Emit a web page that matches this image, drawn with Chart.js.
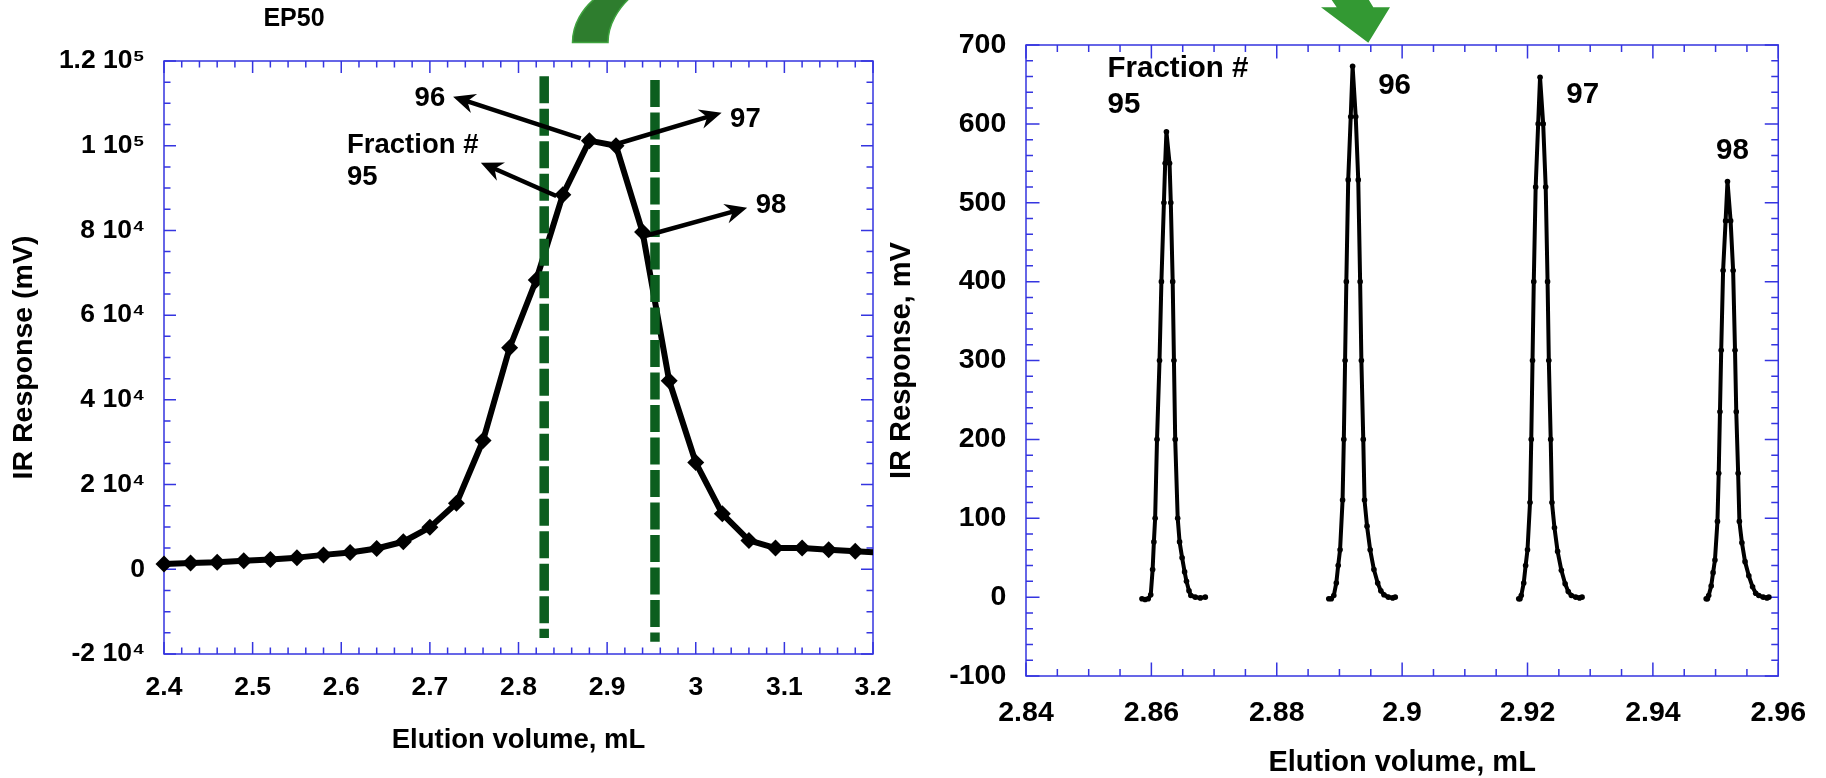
<!DOCTYPE html>
<html>
<head>
<meta charset="utf-8">
<title>EP50 fractions</title>
<script src="https://cdn.jsdelivr.net/npm/chart.js@4.4.1/dist/chart.umd.min.js"></script>
<style>
  html, body { margin: 0; padding: 0; background: #fff; }
  body { position: relative; width: 1826px; height: 778px; overflow: hidden; }
  canvas { position: absolute; top: 0; }
  #ep50 { left: 0; }
  #fractions { left: 870px; }
</style>
</head>
<body>
<canvas id="ep50" width="913" height="778"></canvas>
<canvas id="fractions" width="956" height="778"></canvas>
<script>
/* LEFT PANEL: EP50 elution, sampled every 0.03 mL */
const ep50Volume = [2.40, 2.43, 2.46, 2.49, 2.52, 2.55, 2.58, 2.61, 2.64, 2.67, 2.70, 2.73, 2.76, 2.79,
                    2.82, 2.85, 2.88, 2.91, 2.94, 2.97, 3.00, 3.03, 3.06, 3.09, 3.12, 3.15, 3.18, 3.21];
const ep50Response = [1260, 1500, 1650, 2000, 2300, 2750, 3400, 3950, 4900, 6500, 9900, 15600, 30400, 52300,
                      68300, 88400, 101200, 100000, 79600, 44500, 25200, 13100, 6800, 5000, 5000, 4600, 4250, 3900];

// fraction cut marks (green dashed)
const cutVolume = [2.829, 2.954];
const cutTop = [116400, 115500];
const cutBottom = [-16200, -17100];

const leftXTicks = [2.4, 2.5, 2.6, 2.7, 2.8, 2.9, 3.0, 3.1, 3.2];
const leftXLabels = ['2.4', '2.5', '2.6', '2.7', '2.8', '2.9', '3', '3.1', '3.2'];
const leftYTicks = [-20000, 0, 20000, 40000, 60000, 80000, 100000, 120000];
const leftYLabels = ['-2 10\u2074', '0', '2 10\u2074', '4 10\u2074', '6 10\u2074', '8 10\u2074', '1 10\u2075', '1.2 10\u2075'];

/* RIGHT PANEL: fractions 95-98 re-injected */
const frac95Volume = [2.8585, 2.8590, 2.8595, 2.8599, 2.8602, 2.8604, 2.8606, 2.8609, 2.8613, 2.8616, 2.8620, 2.8622, 2.8624,
                      2.8629, 2.8631, 2.8634, 2.8636, 2.8638, 2.8642, 2.8645, 2.8649, 2.8653, 2.8656, 2.8660, 2.8663, 2.8670, 2.8678, 2.8686];
const frac95Response = [-2, -3, -2, 3, 35, 70, 100, 200, 300, 400, 500, 550, 590,
                        550, 500, 400, 300, 200, 100, 70, 50, 32, 20, 8, 2, 0, -1, 0];

const frac96Volume = [2.8883, 2.8887, 2.8891, 2.8895, 2.8898, 2.8901, 2.8905, 2.8907, 2.8909, 2.8911, 2.8914, 2.8918, 2.8921,
                      2.8926, 2.8930, 2.8933, 2.8935, 2.8938, 2.8940, 2.8944, 2.8949, 2.8955, 2.8961, 2.8966, 2.8971, 2.8978, 2.8985, 2.8989];
const frac96Response = [-2, -2, 2, 18, 40, 60, 123, 200, 300, 400, 529, 609, 673,
                        609, 529, 400, 300, 200, 123, 90, 60, 35, 18, 8, 3, 0, -1, 0];

const frac97Volume = [2.9186, 2.9188, 2.9190, 2.9194, 2.9197, 2.9200, 2.9204, 2.9206, 2.9208, 2.9210, 2.9213, 2.9217, 2.9220,
                      2.9225, 2.9229, 2.9232, 2.9234, 2.9237, 2.9239, 2.9243, 2.9248, 2.9254, 2.9260, 2.9265, 2.9270, 2.9277, 2.9283, 2.9287];
const frac97Response = [-2, -2, 2, 18, 40, 60, 120, 200, 300, 400, 520, 600, 659,
                        600, 520, 400, 300, 200, 120, 88, 58, 34, 17, 7, 2, 0, -1, 0];

const frac98Volume = [2.9485, 2.9487, 2.9489, 2.9493, 2.9496, 2.9499, 2.9503, 2.9505, 2.9507, 2.9509, 2.9512, 2.9516, 2.9519,
                      2.9524, 2.9528, 2.9531, 2.9533, 2.9536, 2.9538, 2.9542, 2.9547, 2.9553, 2.9559, 2.9564, 2.9569, 2.9576, 2.9582, 2.9585];
const frac98Response = [-2, -2, 2, 14, 31, 47, 96, 157, 235, 313, 414, 477, 527,
                        477, 414, 313, 235, 157, 96, 69, 45, 27, 13, 5, 2, 0, -1, 0];

const rightXTicks = [2.84, 2.86, 2.88, 2.90, 2.92, 2.94, 2.96];
const rightXLabels = ['2.84', '2.86', '2.88', '2.9', '2.92', '2.94', '2.96'];
const rightYTicks = [-100, 0, 100, 200, 300, 400, 500, 600, 700];
const rightYLabels = ['-100', '0', '100', '200', '300', '400', '500', '600', '700'];

const FONT = '"Liberation Sans", Arial, Helvetica, sans-serif';
const AXIS_BLUE = '#3535e0';

Chart.defaults.font.family = FONT;
Chart.defaults.font.weight = 'bold';
Chart.defaults.color = '#000';

const pts = (xs, ys) => xs.map((v, i) => ({ x: v, y: ys[i] }));

/* blue box frame with inward major/minor ticks on all four sides */
const frameTicks = {
    id: 'frameTicks',
    beforeDatasetsDraw(chart, args, o) {
        const { ctx, chartArea: a, scales: { x, y } } = chart;
        ctx.save();
        ctx.strokeStyle = AXIS_BLUE;
        ctx.lineWidth = 1.5;
        ctx.strokeRect(a.left, a.top, a.right - a.left, a.bottom - a.top);
        ctx.beginPath();
        const nx = Math.round((x.max - x.min) / o.xMinor);
        for (let i = 0; i <= nx; i++) {
            const px = x.getPixelForValue(x.min + i * o.xMinor);
            const len = i % o.xSub ? o.minor : o.major;
            ctx.moveTo(px, a.bottom); ctx.lineTo(px, a.bottom - len);
            ctx.moveTo(px, a.top); ctx.lineTo(px, a.top + len);
        }
        const ny = Math.round((y.max - y.min) / o.yMinor);
        for (let i = 0; i <= ny; i++) {
            const py = y.getPixelForValue(y.min + i * o.yMinor);
            const len = i % o.ySub ? o.minor : o.major;
            ctx.moveTo(a.left, py); ctx.lineTo(a.left + len, py);
            ctx.moveTo(a.right, py); ctx.lineTo(a.right - len, py);
        }
        ctx.stroke();
        ctx.restore();
    }
};

/* arrows + fraction labels, placed in data units */
const callouts = {
    id: 'callouts',
    afterDatasetsDraw(chart, args, o) {
        const { ctx, scales: { x, y } } = chart;
        ctx.save();
        ctx.fillStyle = '#000';
        ctx.strokeStyle = '#000';
        ctx.lineWidth = 4.5;
        (o.arrows || []).forEach(([x0, y0, x1, y1]) => {
            const ax = x.getPixelForValue(x0), ay = y.getPixelForValue(y0);
            const bx = x.getPixelForValue(x1), by = y.getPixelForValue(y1);
            const ang = Math.atan2(by - ay, bx - ax);
            const c = Math.cos(ang), s = Math.sin(ang);
            ctx.beginPath();
            ctx.moveTo(ax, ay);
            ctx.lineTo(bx - c * 12, by - s * 12);
            ctx.stroke();
            const L = 22, W = 10, N = 15;
            ctx.beginPath();
            ctx.moveTo(bx, by);
            ctx.lineTo(bx - c * L - s * W, by - s * L + c * W);
            ctx.lineTo(bx - c * N, by - s * N);
            ctx.lineTo(bx - c * L + s * W, by - s * L - c * W);
            ctx.closePath();
            ctx.fill();
        });
        ctx.font = `bold ${o.fontSize}px ${FONT}`;
        ctx.textBaseline = 'middle';
        (o.labels || []).forEach(l => {
            ctx.textAlign = l.align || 'center';
            ctx.fillText(l.text, x.getPixelForValue(l.x), y.getPixelForValue(l.y));
        });
        ctx.restore();
    }
};

/* green connector arrow pieces and panel caption, canvas pixels */
const decor = {
    id: 'decor',
    afterDraw(chart, args, o) {
        const { ctx } = chart;
        ctx.save();
        (o.shapes || []).forEach(sh => {
            ctx.beginPath();
            sh.draw(ctx);
            ctx.closePath();
            ctx.fillStyle = sh.fill;
            ctx.fill();
            if (sh.edge) { ctx.strokeStyle = sh.edge; ctx.lineWidth = 1.5; ctx.stroke(); }
        });
        (o.texts || []).forEach(t => {
            ctx.font = `bold ${t.size}px ${FONT}`;
            ctx.fillStyle = '#000';
            ctx.textAlign = 'center';
            ctx.textBaseline = 'middle';
            ctx.fillText(t.text, t.x, t.y);
        });
        ctx.restore();
    }
};

Chart.register(frameTicks, callouts, decor);

/* LEFT CHART */
new Chart(document.getElementById('ep50'), {
    type: 'scatter',
    data: {
        datasets: [
            ...cutVolume.map((v, i) => ({
                data: [{ x: v, y: cutTop[i] }, { x: v, y: cutBottom[i] }],
                showLine: true,
                borderColor: '#0c5e1f',
                borderWidth: 9.5,
                borderDash: [27, 5.5],
                borderCapStyle: 'butt',
                pointRadius: 0,
                order: 0
            })),
            {
                data: pts(ep50Volume, ep50Response),
                showLine: true,
                borderColor: '#000',
                borderWidth: 6,
                borderJoinStyle: 'round',
                pointStyle: 'rectRot',
                pointRadius: 8.5,
                pointBackgroundColor: '#000',
                pointBorderColor: '#000',
                pointBorderWidth: 0,
                clip: { left: false, top: false, right: 0, bottom: false },
                order: 1
            }
        ]
    },
    options: {
        responsive: false,
        animation: false,
        events: [],
        layout: { padding: { top: 61, right: 40, bottom: 0, left: 0 } },
        plugins: {
            legend: { display: false },
            tooltip: { enabled: false },
            frameTicks: { xMinor: 0.02, xSub: 5, yMinor: 5000, ySub: 4, major: 12, minor: 6.5 },
            callouts: {
                fontSize: 27.5,
                arrows: [
                    [2.8702, 101750, 2.7262, 111570],
                    [2.9107, 100400, 3.0292, 107800],
                    [2.8427, 88130, 2.7575, 96000],
                    [2.9375, 78380, 3.0580, 85370]
                ],
                labels: [
                    { text: '96', x: 2.700, y: 111230 },
                    { text: '97', x: 3.056, y: 106300 },
                    { text: 'Fraction #', x: 2.6065, y: 100160, align: 'left' },
                    { text: '95', x: 2.6065, y: 92600, align: 'left' },
                    { text: '98', x: 3.085, y: 85900 }
                ]
            },
            decor: {
                shapes: [{
                    fill: '#2e7d2e',
                    edge: '#3fa33f',
                    draw: c => {
                        c.moveTo(572.5, 42.5);
                        c.bezierCurveTo(572.5, 25, 582, 8, 598, -4);
                        c.lineTo(632, -4);
                        c.bezierCurveTo(618, 8, 608, 25, 608, 42.5);
                    }
                }],
                texts: [{ text: 'EP50', x: 294, y: 19, size: 25 }]
            }
        },
        scales: {
            x: {
                type: 'linear',
                min: 2.4,
                max: 3.2,
                grid: { display: false, drawTicks: false },
                border: { display: false },
                afterBuildTicks: s => { s.ticks = leftXTicks.map(v => ({ value: v })); },
                afterFit: s => { s.height = 124; },
                ticks: {
                    callback: (v, i) => leftXLabels[i],
                    padding: 18,
                    autoSkip: false,
                    maxRotation: 0,
                    font: { size: 26.5, weight: 'bold' }
                },
                title: {
                    display: true,
                    text: 'Elution volume, mL',
                    font: { size: 27.5, weight: 'bold' },
                    padding: { top: 0, bottom: 21 }
                }
            },
            y: {
                type: 'linear',
                min: -20000,
                max: 120000,
                grid: { display: false, drawTicks: false },
                border: { display: false },
                afterBuildTicks: s => { s.ticks = leftYTicks.map(v => ({ value: v })); },
                afterFit: s => { s.width = 164; },
                ticks: {
                    callback: (v, i) => leftYLabels[i],
                    padding: 19,
                    autoSkip: false,
                    font: { size: 26.5, weight: 'bold' }
                },
                title: {
                    display: true,
                    text: 'IR Response (mV)',
                    font: { size: 28.5, weight: 'bold' },
                    padding: { top: 7, bottom: 0 }
                }
            }
        }
    }
});

/* RIGHT CHART */
const fractionSets = [
    [frac95Volume, frac95Response],
    [frac96Volume, frac96Response],
    [frac97Volume, frac97Response],
    [frac98Volume, frac98Response]
];

new Chart(document.getElementById('fractions'), {
    type: 'scatter',
    data: {
        datasets: fractionSets.map(([xs, ys]) => ({
            data: pts(xs, ys),
            showLine: true,
            borderColor: '#000',
            borderWidth: 4,
            borderJoinStyle: 'round',
            pointStyle: 'circle',
            pointRadius: 2.8,
            pointBackgroundColor: '#000',
            pointBorderWidth: 0
        }))
    },
    options: {
        responsive: false,
        animation: false,
        events: [],
        layout: { padding: { top: 45, right: 46, bottom: 0, left: 0 } },
        plugins: {
            legend: { display: false },
            tooltip: { enabled: false },
            frameTicks: { xMinor: 0.005, xSub: 4, yMinor: 20, ySub: 5, major: 13.5, minor: 7 },
            callouts: {
                fontSize: 29.5,
                labels: [
                    { text: 'Fraction #', x: 2.8530, y: 669.6, align: 'left' },
                    { text: '95', x: 2.8530, y: 624.3, align: 'left' },
                    { text: '96', x: 2.8988, y: 647.6 },
                    { text: '97', x: 2.9288, y: 637.3 },
                    { text: '98', x: 2.9527, y: 565.9 }
                ]
            },
            decor: {
                shapes: [{
                    fill: '#339933',
                    draw: c => {
                        c.moveTo(461, -1);
                        c.lineTo(498.3, -1);
                        c.lineTo(503.3, 7.3);
                        c.lineTo(520, 7.3);
                        c.lineTo(498.3, 42.7);
                        c.lineTo(451, 7.3);
                        c.lineTo(466.7, 7.3);
                    }
                }]
            }
        },
        scales: {
            x: {
                type: 'linear',
                min: 2.84,
                max: 2.96,
                grid: { display: false, drawTicks: false },
                border: { display: false },
                afterBuildTicks: s => { s.ticks = rightXTicks.map(v => ({ value: v })); },
                afterFit: s => { s.height = 102; },
                ticks: {
                    callback: (v, i) => rightXLabels[i],
                    padding: 20,
                    autoSkip: false,
                    maxRotation: 0,
                    font: { size: 28.5, weight: 'bold' }
                },
                title: {
                    display: true,
                    text: 'Elution volume, mL',
                    font: { size: 29, weight: 'bold' },
                    padding: { top: 0, bottom: -2 }
                }
            },
            y: {
                type: 'linear',
                min: -100,
                max: 700,
                grid: { display: false, drawTicks: false },
                border: { display: false },
                afterBuildTicks: s => { s.ticks = rightYTicks.map(v => ({ value: v })); },
                afterFit: s => { s.width = 156; },
                ticks: {
                    callback: (v, i) => rightYLabels[i],
                    padding: 19.7,
                    autoSkip: false,
                    font: { size: 28.5, weight: 'bold' }
                },
                title: {
                    display: true,
                    text: 'IR Response, mV',
                    font: { size: 29, weight: 'bold' },
                    padding: { top: 14.9, bottom: 0 }
                }
            }
        }
    }
});
</script>
</body>
</html>
